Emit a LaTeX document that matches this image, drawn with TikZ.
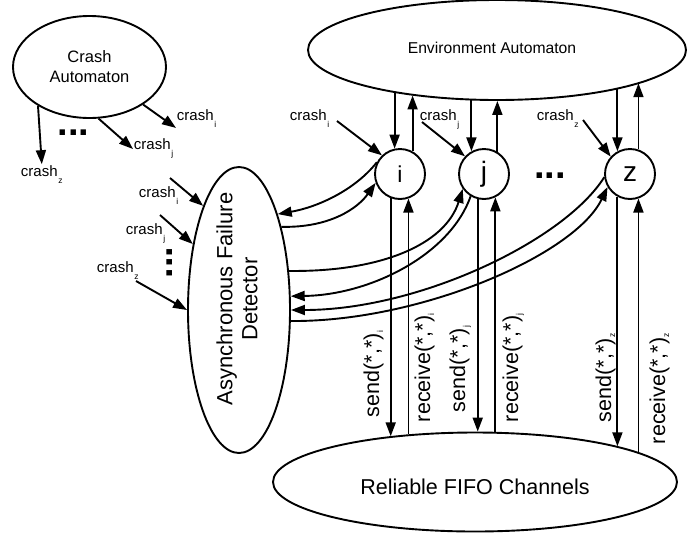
\documentclass[tikz,border=0pt]{standalone}
\usepackage{fontspec}
\setmainfont{Liberation Sans}
\usepackage{graphicx}
\usetikzlibrary{arrows.meta,shapes.geometric}
\newcommand\fsz[1]{\fontsize{#1}{#1}\selectfont}
\newcommand\sbs[1]{\kern0.8pt\raisebox{-7pt}{\fontsize{8.5}{8.5}\selectfont #1}}
\newcommand\sbr[1]{\kern0.6pt\raisebox{-4pt}{\fontsize{8.5}{8.5}\selectfont #1}}
\begin{document}
\begin{tikzpicture}[x=1pt,y=-1pt,line width=1.9pt,
  arr/.style={-{Triangle[length=14pt,width=10pt]}},
  ell/.style={draw,ellipse,inner sep=0pt,line width=1.9pt},
  circ/.style={draw,circle,minimum size=50pt,inner sep=0pt},
  lab/.style={font=\fsz{15},inner sep=0pt,anchor=base west},
  rot/.style={font=\fsz{21.5},rotate=90,inner sep=0pt,anchor=base west},
  dots/.style={font=\bfseries\fsz{38},inner sep=0pt}]
\useasboundingbox (0,0) rectangle (687,536);

% main nodes
\node[ell,minimum width=153pt,minimum height=102pt,align=center,
      font=\fontsize{16.5}{20}\selectfont] (crash) at (89.5,67) {Crash\\Automaton};
\node[ell,minimum width=378pt,minimum height=100pt,font=\fsz{15.7}] (env) at (497,50)
      {\raisebox{2.5pt}[\height][0pt]{\kern-10pt Environment Automaton}};
\node[ell,minimum width=404pt,minimum height=99pt,font=\fsz{21.5}] (fifo) at (475,482)
      {\raisebox{-5pt}[\height][0pt]{Reliable FIFO Channels}};
\node[ell,minimum width=102pt,minimum height=286pt] (afd) at (239,310) {};
\node[font=\fontsize{22}{25}\selectfont,rotate=90,align=center,inner sep=0pt] (afdtext) at (237,299)
      {Asynchronous Failure\\Detector};

\node[circ,font=\fsz{23}] (i) at (400,174) {i};
\node[circ,font=\fsz{28}] (j) at (484,174) {j};
\node[circ,font=\fsz{28}] (z) at (630,174) {z};

% dots
\node[dots] (d1) at (73.5,133) {...};
\node[dots] (d2) at (550,175.5) {...};
\node[dots,rotate=90] (d3) at (169.5,262.5) {...};

% crash labels near crash automaton
\node[lab] (ci1) at (176,120) {crash\sbs{i}};
\node[lab] (cj1) at (133,149) {crash\sbs{j}};
\node[lab] (cz1) at (20,176) {crash\sbs{z}};
\draw[arr] (crash.325) -- (ci1.south west);
\draw[arr] (crash.280) -- (cj1.base west);
\draw[arr] (crash.217) -- (cz1.north);

% crash labels near AFD
\node[lab] (ci2) at (138,197) {crash\sbs{i}};
\node[lab] (cj2) at (125,234) {crash\sbs{j}};
\node[lab] (cz2) at (96,272) {crash\sbs{z}};
\coordinate (ti2) at (170,178);
\coordinate (tj2) at (160,215);
\coordinate (tz2) at (136,281);
\draw[arr] (ti2) -- (afd.109);
\draw[arr] (tj2) -- (afd.125);
\draw[arr] (tz2) -- (afd.180);

% crash labels near processes
\node[lab] (ci3) at (289,120) {crash\sbs{i}};
\node[lab] (cj3) at (419,120) {crash\sbs{j}};
\node[lab] (cz3) at (536,120) {crash\sbs{z}};
\coordinate (ti3) at (337,121);
\coordinate (tj3) at (422,122);
\coordinate (tz3) at (583,120);
\draw[arr] (ti3) -- (i.134);
\draw[arr] (tj3) -- (j.137);
\draw[arr] (tz3) -- (z.138);

% environment <-> processes
\draw[arr] (i.102 |- env.202) -- (i.102);
\draw[arr] (i.61) -- (i.61 |- env.208);
\draw[arr] (j.119 |- env.243) -- (j.119);
\draw[arr] (j.59) -- (j.59 |- env.270);
\draw[arr] (z.119 |- env.342) -- (z.119);
\draw[arr] (z.71) -- (z.71 |- env.347);

% processes <-> channels
\draw[arr] (i.249) -- (i.249 |- fifo.152);
\draw[arr] (i.289 |- fifo.145) -- (i.289);
\draw[arr] (j.256) -- (j.256 |- fifo.88);
\draw[arr] (j.296 |- fifo.68) -- (j.296);
\draw[arr] (z.241) -- (z.241 |- fifo.14);
\draw[arr] (z.289 |- fifo.10) -- (z.289);

\node[rot] (si) at (379,418) {send(*,*)\sbr{i}};
\node[rot] (ri) at (430,423) {receive(*,*)\sbr{i}};
\node[rot] (sj) at (465,413) {send(*,*)\sbr{j}};
\node[rot] (rj) at (518,423) {receive(*,*)\sbr{j}};
\node[rot] (sz) at (611,423) {send(*,*)\sbr{z}};
\node[rot] (rz) at (665,445) {receive(*,*)\sbr{z}};

% AFD <-> processes
\draw[arr] (i.153) .. controls (355,190) and (318,207) .. (afd.68);
\draw[arr] (afd.63) .. controls (330,228) and (358,208) .. (i.200);
\draw[arr] (afd.38) .. controls (380,272) and (445,245) .. (j.215);
\draw[arr] (j.239) .. controls (450,255) and (370,295) .. (afd.15);
\draw[arr] (z.187) .. controls (565,240) and (420,310) .. (afd.0);
\draw[arr] (afd.348) .. controls (420,322) and (575,255) .. (z.210);
\end{tikzpicture}
\end{document}
